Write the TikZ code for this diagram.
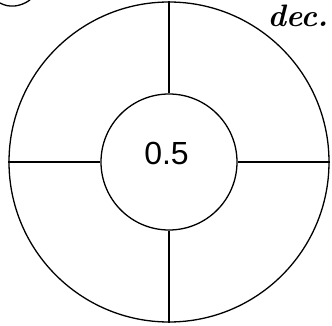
\documentclass[tikz,border=0pt]{standalone}
\usepackage{fontspec}
\setsansfont{Liberation Sans}
\usetikzlibrary{positioning}
\tikzset{ring/.style={draw,circle,inner sep=0pt}}
\begin{document}
\begin{tikzpicture}[x=1pt,y=-1pt,line width=1.3pt]
\useasboundingbox (0,0) rectangle (332,326);
\node[ring,minimum size=320pt] (outer) at (169,162) {};
\node[ring,minimum size=136pt] (inner) at (169,162) {};
\node[font=\sffamily\fontsize{32}{34}\selectfont] (val) at (166.5,153) {0.5};
\draw (inner.north) -- (outer.north);
\draw (inner.west) -- (outer.west);
\draw (inner.east) -- (outer.east);
\draw (inner.south) -- (outer.south);
% handwritten fragments at the top edge
\node[font=\bfseries\itshape\fontsize{31}{33}\selectfont,anchor=base west,inner sep=0pt] (note) at (267,27) {dec.};
\draw (0,3) .. controls (9,8) and (20,7) .. (30,0);
\end{tikzpicture}
\end{document}
